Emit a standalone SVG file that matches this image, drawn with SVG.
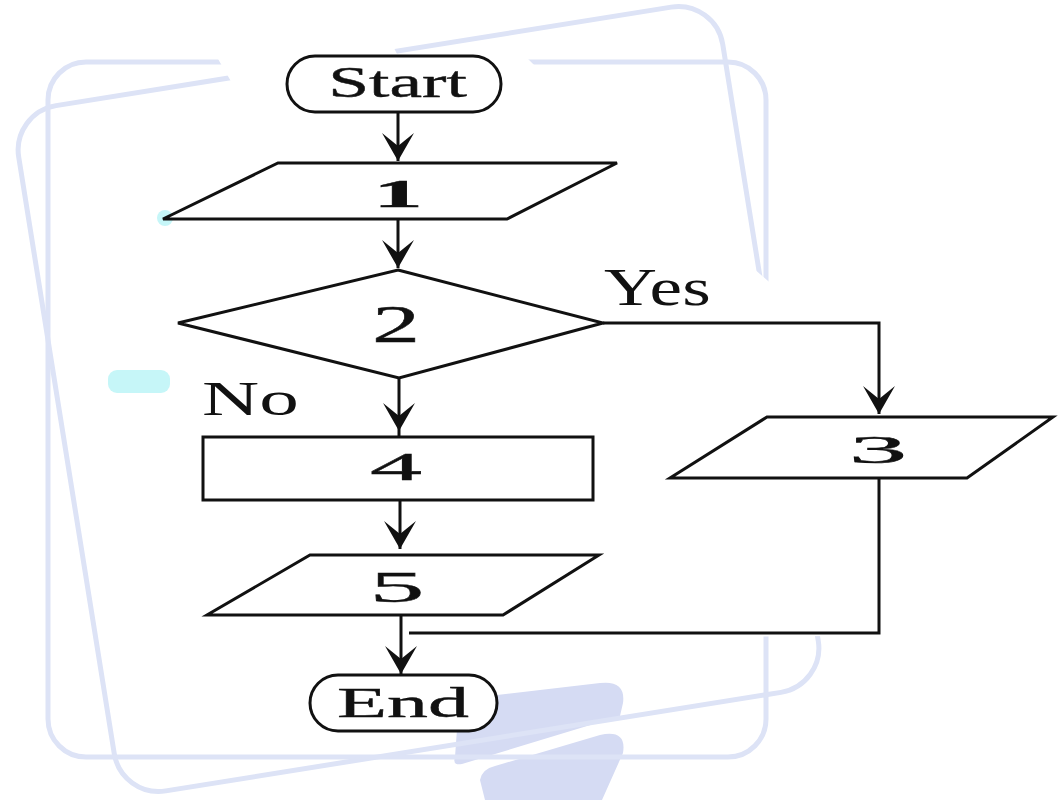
<svg xmlns="http://www.w3.org/2000/svg" width="1061" height="800" viewBox="0 0 1061 800">
<style>
.frame{fill:none;stroke:#dde3f6;stroke-width:5}
.blob{fill:#d5dbf3}
.cyan{fill:#c6f6f8}
.shape{fill:#fff;stroke:#111;stroke-width:3;stroke-linejoin:miter}
.conn{fill:none;stroke:#111;stroke-width:3}
.t{font-family:"Liberation Serif","Times New Roman",serif;fill:#111;stroke:#111;stroke-width:0.4;text-anchor:middle}
.lbl{font-family:"Liberation Serif","Times New Roman",serif;fill:#111;text-anchor:start}
</style>
<defs>
<marker id="arr" markerUnits="userSpaceOnUse" markerWidth="32" markerHeight="36" viewBox="-30 -18 32 36" refX="0" refY="0" orient="auto">
<path d="M0,0 L-28,-16 L-15,0 L-28,16 Z" fill="#111"/>
</marker>
</defs>
<rect width="1061" height="800" fill="#fff"/>
<g id="background">
<path class="blob" d="M455,757 L458,715 Q470,700 497,695 L600,683 Q626,680 623,703 L620,716 L462,764 Q452,766 455,757 Z"/>
<path class="blob" d="M485,800 L480,780 Q482,769 495,766 L600,735 Q627,729 623,753 L602,800 Z"/>
<rect class="frame" x="48" y="62" width="718" height="695" rx="38"/>
<rect class="frame" x="62" y="52" width="713" height="694" rx="45" transform="rotate(-9.1 418.5 399)"/>
<polygon fill="#fff" points="214,52 390,40 398,56 525,56 640,170 790,300 1061,415 1061,505 887,590 840,636 700,637 600,642 505,672 300,685 200,625 195,500 172,410 170,345 113,305 168,262 236,235 236,90"/>
<circle class="cyan" cx="165" cy="218" r="8"/>
<rect class="cyan" x="108" y="370" width="62" height="23" rx="9"/>
</g>
<g id="connectors">
<line class="conn" x1="398" y1="112" x2="398" y2="161" marker-end="url(#arr)"/>
<line class="conn" x1="398" y1="219" x2="398" y2="268" marker-end="url(#arr)"/>
<line class="conn" x1="399" y1="378" x2="399" y2="431" marker-end="url(#arr)"/>
<line class="conn" x1="399" y1="431" x2="399" y2="437"/>
<polyline class="conn" points="603,323 879,323 879,414" marker-end="url(#arr)"/>
<line class="conn" x1="400" y1="500" x2="400" y2="549" marker-end="url(#arr)"/>
<line class="conn" x1="401" y1="615" x2="401" y2="674" marker-end="url(#arr)"/>
<polyline class="conn" points="879,478 879,633 409,633"/>
</g>
<g id="node-start">
<rect class="shape" x="287" y="56" width="214" height="56" rx="28"/>
<text class="t" font-size="44" transform="translate(397.5,97) scale(1.67,1)">Start</text>
</g>
<g id="node-1">
<polygon class="shape" points="278,163 617,163 507,219 163,219"/>
<text class="t" font-size="40" font-weight="bold" transform="translate(398,207) scale(2.5,1)">1</text>
</g>
<g id="node-2">
<polygon class="shape" points="398,270 603,323 399,378 178,323"/>
<text class="t" font-size="52" transform="translate(396,342) scale(1.85,1)">2</text>
</g>
<g id="label-yes">
<text class="lbl" font-size="52" transform="translate(604,305) scale(1.41,1)">Yes</text>
</g>
<g id="label-no">
<text class="lbl" font-size="48" transform="translate(202,415) scale(1.65,1)">No</text>
</g>
<g id="node-3">
<polygon class="shape" points="767,417 1053,417 967,478 670,478"/>
<text class="t" font-size="39" transform="translate(878,463) scale(3,1)">3</text>
</g>
<g id="node-4">
<rect class="shape" x="203" y="437" width="390" height="63"/>
<text class="t" font-size="40" transform="translate(396,480) scale(2.6,1)">4</text>
</g>
<g id="node-5">
<polygon class="shape" points="310,555 599,555 503,615 207,615"/>
<text class="t" font-size="44" transform="translate(397,602) scale(2.5,1)">5</text>
</g>
<g id="node-end">
<rect class="shape" x="310" y="675" width="187" height="56" rx="28"/>
<text class="t" font-size="42" transform="translate(403,717) scale(1.95,1)">End</text>
</g>
</svg>
